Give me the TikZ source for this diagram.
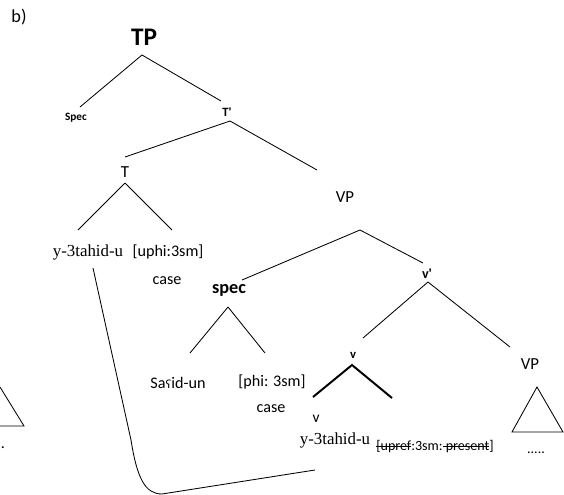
\documentclass[tikz,border=0pt]{standalone}
\usepackage{fontspec}
\setmainfont{Carlito}
\newfontfamily\timesfont{Liberation Serif}
\newfontfamily\ipafont{DejaVu Sans}
\usepackage{tikz}
\usetikzlibrary{positioning}
\tikzstyle{lab}= [inner sep=0pt, font=\fontsize{11.5}{13}\selectfont]
\tikzstyle{cat}= [inner sep=0pt, font=\fontsize{12}{14}\selectfont]
\tikzstyle{smallcat}= [inner sep=0pt, font=\bfseries\fontsize{9}{11}\selectfont]
\tikzstyle{word}= [inner sep=0pt, font=\timesfont\fontsize{12}{14}\selectfont]
\tikzstyle{br}= [line width=0.6pt]
\newcommand{\strk}[1]{\setbox0\hbox{#1}\rlap{\rule[0.27em]{\wd0}{0.5pt}}\box0}

\begin{document}
\begin{tikzpicture}
				\useasboundingbox (0,0) rectangle (14.1,-12.375);
				\node[inner sep=0pt, font=\fontsize{13}{15}\selectfont] (lbl) at (0.475,-0.425) {b)};
				\node[inner sep=0pt, font=\bfseries\fontsize{18}{20}\selectfont] (TP) at (3.6,-0.925) {TP};
				\node[smallcat, font=\bfseries\fontsize{8}{10}\selectfont] (Spec) at (1.9,-2.95) {Spec};
				\node[smallcat] (Tbar) at (5.675,-2.8) {T\textquotesingle};
				\node[cat] (T) at (3.125,-4.3) {T};
				\node[cat] (VP) at (8.625,-4.925) {VP};
				\node[word] (yT) at (2.2,-6.3) {y-3tahid-u};
				\node[lab] (uphi) at (4.2,-6.3) {[uphi:3sm]};
				\node[lab] (case1) at (4.175,-7.025) {case};
				\node[inner sep=0pt, font=\bfseries\fontsize{13}{15}\selectfont] (spec) at (5.725,-7.25) {spec};
				\node[smallcat, font=\bfseries\fontsize{10}{12}\selectfont] (vbar) at (10.675,-6.85) {v\textquotesingle};
				\node[smallcat] (v) at (8.825,-8.875) {v};
				\node[cat] (VPr) at (13.25,-9.1) {VP};
				\node[lab] (said) at (4.45,-9.575) {Sa{\ipafont\fontsize{8}{10}\selectfont ʕ}id-un};
				\node[lab] (phi) at (6.8,-9.55) {[phi: 3sm]};
				\node[lab] (case2) at (6.775,-10.225) {case};
				\node[cat, font=\fontsize{11}{13}\selectfont] (vlow) at (7.9,-10.475) {v};
				\node[word] (yv) at (8.375,-11.0) {y-3tahid-u};
				\node[lab, font=\fontsize{10}{12}\selectfont] (upref) at (10.875,-11.175) {\strk{[upref}:3sm:\strk{ present}]};
				\node[lab, font=\fontsize{10}{12}\selectfont] (dots) at (13.4,-11.325) {.....};
				\node[lab] (ldot) at (0.075,-11.2) {.};

				\coordinate (vl) at (7.825,-9.925);
				\coordinate (vr) at (9.8,-9.95);
				\coordinate (cend) at (7.875,-11.75);

				\draw[br] ([shift={(-0.05,-0.45)}]TP.center) -- ([shift={(0.1,0.275)}]Spec.center);
				\draw[br] ([shift={(-0.05,-0.45)}]TP.center) -- ([shift={(-0.15,0.275)}]Tbar.center);
				\draw[br] ([shift={(0.075,-0.225)}]Tbar.center) -- ([shift={(0,0.375)}]T.center);
				\draw[br] ([shift={(0.075,-0.225)}]Tbar.center) -- ([shift={(-0.7,0.675)}]VP.center);
				\draw[br] ([shift={(0,-0.275)}]T.center) -- ([shift={(-0.25,0.55)}]yT.center);
				\draw[br] ([shift={(0,-0.275)}]T.center) -- ([shift={(0.1,0.55)}]uphi.center);
				\draw[br] ([shift={(0.375,-0.825)}]VP.center) -- ([shift={(0.325,0.25)}]spec.center);
				\draw[br] ([shift={(0.375,-0.825)}]VP.center) -- ([shift={(-0.1,0.275)}]vbar.center);
				\draw[br] ([shift={(0.025,-0.2)}]vbar.center) -- ([shift={(0.25,0.425)}]v.center);
				\draw[br] ([shift={(0.025,-0.2)}]vbar.center) -- ([shift={(-0.5,0.425)}]VPr.center);
				\draw[br] ([shift={(-0.025,-0.425)}]spec.center) -- ([shift={(0.3,0.75)}]said.center);
				\draw[br] ([shift={(-0.025,-0.425)}]spec.center) -- ([shift={(-0.175,0.725)}]phi.center);
				\draw[line width=1.4pt] (vl) -- ([shift={(-0.025,-0.25)}]v.center) -- (vr);

				% triangles
				\draw[br] (13.425,-9.675) -- (12.8,-10.8) -- (14.075,-10.8) -- cycle;
				\draw[br] (0,-9.675) -- (0.6,-10.65) -- (0,-10.65);

				% movement line
				\draw[br] ([shift={(0.125,-0.4)}]yT.center) -- (3.275,-11.0) .. controls (3.425,-11.95) and (3.625,-12.35) .. (4.05,-12.35) -- (cend);
			\end{tikzpicture}
\end{document}
